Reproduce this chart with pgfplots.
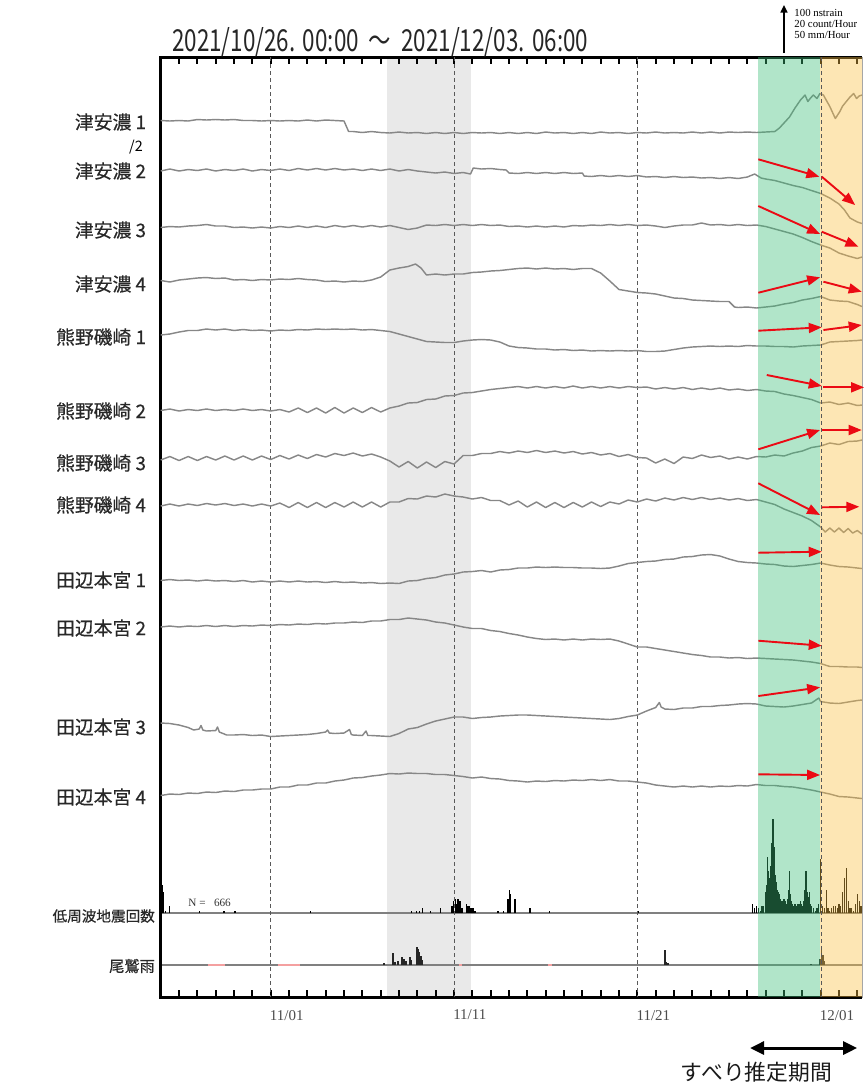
\documentclass[border=0pt]{standalone}
\usepackage{pgfplots}
\pgfplotsset{compat=1.18}
\usepackage{graphicx}
\usepackage{fontspec}
\setmainfont{Liberation Serif}
\newfontfamily\jp{Noto Sans CJK JP}
\newfontfamily\jpm[FakeBold=0.5]{Noto Sans CJK JP}
\usetikzlibrary{arrows.meta}
\definecolor{tracegray}{RGB}{135,135,135}
\definecolor{bandgray}{RGB}{233,233,233}
\definecolor{greenov}{RGB}{60,190,120}
\definecolor{yellowov}{RGB}{250,192,67}
\definecolor{arrowred}{RGB}{235,10,20}
\definecolor{pinkline}{RGB}{244,160,160}
\definecolor{labelc}{RGB}{40,40,40}
\pgfplotsset{
  base/.style={scale only axis, width=350.6pt, height=470pt, xmin=0, xmax=38.25,
    at={(80.35pt,-28.5pt)}, anchor=north west, clip=false},
  hidden/.style={base, axis lines=none, xtick=\empty, ytick=\empty},
}
\tikzset{
  trace/.style={tracegray, line width=0.72pt, line join=round},
  redarr/.style={arrowred, line width=0.95pt, -{Triangle[length=6.5pt,width=5pt]}},
  stlabel/.style={anchor=east, inner sep=0pt, text=labelc, font=\jpm\fontsize{9.4}{10}\selectfont},
  dline/.style={black!65, line width=0.5pt, dash pattern=on 2pt off 1.5pt},
  tickmark/.style={black, line width=1pt},
}
\begin{document}
\begin{tikzpicture}
\useasboundingbox (0,0) rectangle (432pt,-543pt);
% ---------- low-frequency earthquake counts (count/hour) ----------
\begin{axis}[hidden, ymin=-35.74, ymax=364.26]
\fill[bandgray] (axis cs:12.36,-35.74) rectangle (axis cs:16.9,364.26);
\addplot[gray, line width=0.6pt] coordinates {(0,0)(38.25,0)};
\addplot[ycomb, black, line width=0.6pt] coordinates {
(0.02,13)(0.07,12)(0.12,9)(0.17,5)(0.25,1)(0.5,3)
(2.1,1)(3.45,1)(4.05,1)(8.15,1)
(13.7,1)(13.95,1)(14.1,1)(14.3,2)(14.7,1)(15.25,2)
(15.89,3)(15.95,5)(16.06,6)(16.11,4)(16.22,6)(16.27,4)(16.33,5)(16.44,2)(16.66,4)(16.71,3)(16.82,3)(16.93,2)(17.04,2)(17.15,1)
(18.4,1)(18.68,1)(18.9,3)(18.95,6)(19.03,10)(19.08,8)(19.33,6)(20.15,2)(21.19,1)
(26.04,1)
(32.3,4)(32.4,2)(32.5,3)(32.6,2)(32.7,1)(32.8,3)(32.9,3)(33.0,9)(33.05,12)(33.1,24)(33.15,18)(33.2,15)(33.25,20)(33.3,26)(33.35,30)(33.4,40)(33.45,28)(33.5,21)(33.55,16)(33.6,13)(33.65,10)(33.7,9)(33.75,8)(33.8,6)(33.85,5)(33.9,4)(33.95,5)
(34.0,6)(34.05,5)(34.1,4)(34.15,4)(34.2,6)(34.25,10)(34.3,18)(34.35,8)(34.4,5)(34.45,4)(34.5,3)(34.55,3)(34.6,4)(34.65,3)(34.7,3)(34.75,4)(34.8,4)(34.85,4)(34.9,5)(34.95,4)
(35.0,3)(35.05,5)(35.1,8)(35.15,10)(35.2,18)(35.25,9)(35.3,6)(35.35,7)(35.4,9)(35.45,4)(35.5,3)(35.6,2)(35.7,1)(35.8,2)(35.9,4)
(36.0,23)(36.1,3)(36.2,2)(36.3,10)(36.4,2)(36.5,1)(36.6,2)(36.7,3)(36.8,3)(36.9,2)
(37.0,4)(37.1,3)(37.2,9)(37.3,15)(37.4,19)(37.5,5)(37.6,2)(37.7,2)(37.8,1)(37.9,4)(38.0,8)(38.1,5)(38.2,3)
};
\end{axis}
% ---------- Owase rain (mm/hour) ----------
\begin{axis}[hidden, ymin=-34.04, ymax=965.96]
\addplot[gray, line width=0.6pt] coordinates {(0,0)(38.25,0)};
\addplot[pinkline, line width=1pt] coordinates {(2.6,0)(3.5,0)};
\addplot[pinkline, line width=1pt] coordinates {(6.4,0)(7.6,0)};
\addplot[pinkline, line width=1pt] coordinates {(16.25,0)(16.45,0)};
\addplot[pinkline, line width=1pt] coordinates {(21.15,0)(21.35,0)};
\addplot[ycomb, black!85, line width=0.8pt] coordinates {
(12.18,2)(12.67,13)(12.78,3)(12.95,4)(13.17,8.5)(13.27,6.5)(13.38,4)(13.6,8.5)(13.66,5.5)
(13.97,19)(14.04,17)(14.12,14)(14.2,9.5)(14.28,5)
(27.51,16)(27.6,3)(27.68,2)
(35.48,1)(35.97,6.5)(36.05,18)(36.13,10.5)(36.21,4)
};
\end{axis}
% ---------- strain traces (vertical position in drawing units) ----------
\begin{axis}[base, y dir=reverse, ymin=57, ymax=997,
  axis line style={draw=gray!70, line width=0.4pt},
  xtick={6,16,26,36}, xticklabels={11/01,11/11,11/21,12/01},
  ytick=\empty, major tick length=0pt,
  xticklabel style={font=\fontsize{7.5}{8}\selectfont, text=black!70, anchor=north west, xshift=-3.9pt, yshift=-3pt},
]
\pgfplotsinvokeforeach{0,1,...,38}{
  \draw[tickmark] (axis cs:#1,57) -- (axis cs:#1,64);
  \draw[tickmark] (axis cs:#1,997) -- (axis cs:#1,990);
}
\draw[black, line width=1.5pt, line join=miter] (axis cs:38.25,57) -- (axis cs:0,57) -- (axis cs:0,997) -- (axis cs:38.25,997);
\draw[dline] (axis cs:6,57) -- (axis cs:6,997);
\draw[dline] (axis cs:16,57) -- (axis cs:16,997);
\draw[dline] (axis cs:26,57) -- (axis cs:26,997);
% Tsu-Ano 1
\addplot[trace] coordinates {(0,120.5)(0.5,121)(1,120.5)(1.5,121)(2,119.5)(2.5,120)(3,119.5)(3.5,120)(4,119.5)(4.5,120.5)(5,120.5)(5.5,121)(6,120.5)(6.5,121)(7,120.5)(7.5,121)(8,120)(8.5,121)(9,120)(9.5,120.5)(10,121)(10.25,131.5)(10.5,131.5)(11,132.5)(11.5,131.5)(12,132.5)(12.5,133)(13,132)(13.5,133)(14,132.5)(14.5,133.5)(15,132.5)(15.5,133.5)(16,132.5)(16.5,133.5)(17,132.5)(17.5,133)(18,132.5)(18.5,133.5)(19,132.5)(19.5,133.5)(20,132.5)(20.5,133.5)(21,132)(21.5,133)(22,132.5)(22.5,133.5)(23,132.5)(23.5,133.5)(24,132)(24.5,133)(25,132.5)(25.5,133.5)(26,132.5)(26.5,133)(27,132)(27.5,133)(28,132.5)(28.5,133)(29,132)(29.5,133)(30,132)(30.5,133)(31,132)(31.5,132.5)(32,132)(32.5,132.5)(33,132)(33.5,131.5)(33.75,128)(34,123)(34.3,117)(34.6,108)(34.9,100)(35.15,95)(35.3,101.5)(35.45,98)(35.6,95)(35.8,98.5)(35.96,93.5)(36.15,95)(36.3,100)(36.5,106.5)(36.8,118.5)(37.05,111.5)(37.2,106)(37.4,101.5)(37.6,97)(37.8,93.5)(37.96,98.5)(38.1,96)(38.25,95)};
% Tsu-Ano 2
\addplot[trace] coordinates {(0,171)(0.5,169)(1,171)(1.5,169.5)(2,170.5)(2.5,169)(3,171)(3.5,169.5)(4,170.5)(4.5,169)(5,171)(5.5,169.5)(6,170.5)(6.5,169)(7,170.5)(7.5,168.5)(8,170)(8.5,168.5)(9,170)(9.5,168.5)(10,170)(10.5,169)(11,170.5)(11.5,169)(12,170.5)(12.5,169)(13,171)(13.5,169.5)(14,171)(14.5,172)(15,173)(15.5,172)(16,173.5)(16.5,172.5)(16.9,174)(17.05,168)(17.5,169)(18,168.5)(18.5,169.5)(18.85,170)(19,173)(19.5,173.5)(20,172.5)(20.5,173.5)(21,172.5)(21.5,173.5)(22,172.5)(22.5,173.5)(23,173)(23.1,176)(23.5,176.5)(24,175.5)(24.5,176.5)(25,175.5)(25.5,176.5)(26,175.5)(26.5,177)(27,176.5)(27.5,177.5)(28,176.5)(28.5,177.5)(29,177)(29.5,178)(30,177.5)(30.5,178.5)(31,177.5)(31.5,178.5)(32,177)(32.4,174)(32.75,178)(33,179)(33.5,180.5)(34,183)(34.5,185.5)(35,187.5)(35.5,190.5)(36,193.5)(36.5,198)(37,204)(37.3,210)(37.6,218)(38,222)(38.25,223.5)};
% Tsu-Ano 3
\addplot[trace] coordinates {(0,227.5)(0.5,226.5)(1,227)(1.5,226)(2,225.5)(2.5,224.5)(3,226)(3.5,226)(4,227.5)(4.5,227)(5,228)(5.5,227)(6,228)(6.5,226.5)(7,227.5)(7.5,226)(8,227.5)(8.5,226)(9,227.5)(9.5,225.5)(10,227)(10.5,225.5)(11,227)(11.5,225.5)(12,227)(12.5,225.5)(13,227.5)(13.5,229.5)(14,228)(14.5,225)(15,225.5)(15.5,224.5)(16,225.5)(16.5,224.5)(17,225.5)(17.5,224.5)(18,225.5)(18.5,225)(19,226.5)(19.5,226)(20,227)(20.5,226)(21,227)(21.5,226)(22,227)(22.5,225.5)(23,226)(23.5,225)(24,225.5)(24.5,224.5)(25,225.5)(25.5,224.5)(26,225.5)(26.5,225)(27,226)(27.5,227.5)(28,226)(28.5,225)(29,225)(29.5,223)(30,225)(30.5,224.5)(31,225.5)(31.5,224.5)(32,225.5)(32.5,225)(33,226.5)(33.5,229)(34,231.5)(34.5,234)(35,237.5)(35.5,241.5)(36,245)(36.5,248)(37,253)(37.5,256)(38,258.5)(38.25,257)};
% Tsu-Ano 4
\addplot[trace] coordinates {(0,280.5)(0.5,282)(1,280)(1.5,279)(2,278)(2.5,277.5)(3,278.5)(3.5,278)(4,280)(4.5,279.5)(5,280.5)(5.5,279.5)(6,280)(6.5,279)(7,279.5)(7.5,278.5)(8,279.5)(8.5,280)(9,281.5)(9.5,281)(10,282)(10.5,281)(11,281.5)(11.5,280)(12,277)(12.5,270)(13,268)(13.5,266.5)(13.9,264)(14.2,268)(14.5,275)(15,274)(15.5,275)(16,274)(16.5,274)(17,272.5)(17.5,272)(18,271)(18.5,270.5)(19,269.5)(19.5,268.5)(20,268)(20.5,269)(21,268)(21.5,269)(22,268.5)(22.5,269.5)(23,268.5)(23.5,268.5)(24,273)(24.5,281)(25,289.5)(25.5,291)(26,292.5)(26.5,293)(27,294)(27.5,296)(28,298)(28.5,298.5)(29,300)(29.5,300.5)(30,301)(30.5,301.5)(31,301.5)(31.3,307)(31.5,307.5)(32,307)(32.5,308)(33,307)(33.5,306)(34,304)(34.5,302.5)(35,300)(35.5,298.5)(36,296.5)(36.5,300)(37,301)(37.5,301.5)(38,304.5)(38.25,306.5)};
% Kumano-Isozaki 1
\addplot[trace] coordinates {(0,335)(0.5,334)(1,332)(1.5,330.5)(2,330.5)(2.5,329)(3,330)(3.5,329)(4,330.5)(4.5,329.5)(5,330.5)(5.5,330)(6,331)(6.5,330)(7,330.5)(7.5,329.5)(8,330)(8.5,329)(9,329.5)(9.5,329)(10,329.5)(10.5,329)(11,330)(11.5,329.5)(12,330.5)(12.5,331.5)(13,334)(13.5,336.5)(14,339)(14.5,341.5)(15,342)(15.5,342.5)(16,342.5)(16.5,341)(17,340)(17.5,339.5)(18,340)(18.5,342)(19,346)(19.5,347.5)(20,348)(20.5,349)(21,349)(21.5,350)(22,349.5)(22.5,350.5)(23,350)(23.5,351)(24,350.5)(24.5,351)(25,350.5)(25.5,351)(26,350.5)(26.5,351.5)(27,351.5)(27.5,351)(28,349.5)(28.5,348)(29,347)(29.5,346.5)(30,346)(30.5,346.5)(31,346)(31.5,346.5)(32,345.5)(32.5,346)(33,346)(33.5,346.5)(34,346.5)(34.5,347)(35,346)(35.5,345.5)(36,345)(36.5,342)(37,341.5)(37.5,341)(38,340.5)(38.25,340)};
% Kumano-Isozaki 2
\addplot[trace] coordinates {(0,410.5)(0.5,409)(1,411)(1.5,409.5)(2,410.5)(2.5,409)(3,410.5)(3.5,409.5)(4,410.5)(4.5,409)(5,410.5)(5.5,409.5)(6,411)(6.5,409.5)(7,412)(7.5,408)(8,412.5)(8.5,408)(9,413)(9.5,407.5)(10,413)(10.5,408)(11,412.5)(11.5,407.5)(12,412)(12.5,408)(13,406)(13.5,403)(14,402.5)(14.5,399.5)(15,399)(15.5,396)(16,395.5)(16.5,393)(17,392.5)(17.5,391)(18,389.5)(18.5,388.5)(19,387.5)(19.5,386.5)(20,388)(20.5,386.5)(21,388)(21.5,386.5)(22,388)(22.5,386)(23,388)(23.5,386.5)(24,388)(24.5,386.5)(25,388)(25.5,386.5)(26,387.5)(26.5,387)(27,389)(27.5,387.5)(28,389)(28.5,387.5)(29,389.5)(29.5,388)(30,389.5)(30.5,388)(31,390)(31.5,389)(32,390.5)(32.5,389.5)(33,391)(33.5,391.5)(34,394)(34.5,395.5)(35,397.5)(35.5,399.5)(36,403)(36.5,402)(37,404.5)(37.5,403)(38,405.5)(38.25,405)};
% Kumano-Isozaki 3
\addplot[trace] coordinates {(0,460)(0.5,456.5)(1,460.5)(1.5,456.5)(2,460.5)(2.5,456.5)(3,460)(3.5,456)(4,460)(4.5,456)(5,460)(5.5,456)(6,459.5)(6.5,455.5)(7,459)(7.5,455)(8,458.5)(8.5,454.5)(9,457)(9.5,453.5)(10,455.5)(10.5,453)(11,456)(11.5,454)(12,457)(12.5,461)(13,467)(13.5,461.5)(14,468)(14.5,462)(15,467.5)(15.5,461.5)(16,464)(16.5,455.5)(17,455.5)(17.5,453.5)(18,453.5)(18.5,451.5)(19,453)(19.5,451)(20,452.5)(20.5,450.5)(21,452.5)(21.5,451)(22,453)(22.5,451.5)(23,454)(23.5,452.5)(24,455)(24.5,453.5)(25,456.5)(25.5,454.5)(26,457.5)(26.5,458)(27,463)(27.5,459)(28,463.5)(28.5,457)(29,458.5)(29.5,455)(30,457.5)(30.5,456)(31,459)(31.5,457)(32,459)(32.5,456.5)(33,457)(33.5,455)(34,456)(34.5,453)(35,451)(35.5,447.5)(36,446)(36.5,443)(37,444.5)(37.5,441.5)(38,441)(38.25,440)};
% Kumano-Isozaki 4
\addplot[trace] coordinates {(0,506)(0.5,504)(1,506)(1.5,504)(2,505.5)(2.5,503.5)(3,505)(3.5,503.5)(4,505.5)(4.5,504)(5,506)(5.5,504)(6,506)(6.5,503)(7,507.5)(7.5,502.5)(8,507.5)(8.5,502.5)(9,507.5)(9.5,502.5)(10,507)(10.5,502)(11,507)(11.5,502)(12,507)(12.5,502)(13,502)(13.5,498.5)(14,499)(14.5,496)(15,497)(15.5,494)(16,496)(16.5,497)(17,499)(17.5,497.5)(18,500.5)(18.5,500.5)(19,505)(19.5,501)(20,507)(20.5,502)(21,507.5)(21.5,502.5)(22,507.5)(22.5,502.5)(23,507)(23.5,502)(24,506.5)(24.5,502)(25,504)(25.5,500)(26,502)(26.5,499)(27,501)(27.5,498)(28,500)(28.5,497.5)(29,499.5)(29.5,497.5)(30,499.5)(30.5,498)(31,500)(31.5,498.5)(32,500.5)(32.5,499.5)(33,502)(33.5,504.5)(34,509)(34.5,512.5)(35,516)(35.5,520.5)(36,527)(36.25,532)(36.5,528)(36.75,532)(37,528)(37.25,532.5)(37.5,528.5)(37.75,533)(38,530.5)(38.25,534)};
% Tanabe-Hongu 1
\addplot[trace] coordinates {(0,580.5)(0.5,579.5)(1,580.5)(1.5,580)(2,581)(2.5,580)(3,581)(3.5,580.5)(4,581.5)(4.5,580.5)(5,582)(5.5,581)(6,582)(6.5,581)(7,582)(7.5,581)(8,582)(8.5,581.5)(9,582.5)(9.5,581.5)(10,582.5)(10.5,582)(11,583)(11.5,582.5)(12,583.5)(12.5,583)(13,583.5)(13.5,581)(14,580.5)(14.5,578.5)(15,577.5)(15.5,575)(16,574)(16.5,572)(17,571.5)(17.5,570.5)(18,572)(18.5,570)(19,569.5)(19.5,568)(20,568)(20.5,567)(21,567.5)(21.5,567)(22,567.5)(22.5,567.5)(23,568)(23.5,568)(24,568.5)(24.5,568)(25,566)(25.5,563.5)(26,562.5)(26.5,561.5)(27,561)(27.5,559.5)(28,559)(28.5,557)(29,556.5)(29.5,555)(30,554.5)(30.5,556)(31,559)(31.5,561.5)(32,562.5)(32.5,563)(33,564)(33.5,564.5)(34,566)(34.5,566.5)(35,565.5)(35.5,564.5)(36,563)(36.5,565)(37,566.5)(37.5,567)(38,568)(38.25,568.5)};
% Tanabe-Hongu 2
\addplot[trace] coordinates {(0,627)(0.5,626)(1,627)(1.5,626)(2,626.5)(2.5,625.5)(3,626.5)(3.5,625.5)(4,626.5)(4.5,625.5)(5,626)(5.5,625)(6,625.5)(6.5,624.5)(7,625)(7.5,624)(8,624.5)(8.5,623.5)(9,624)(9.5,623)(10,623)(10.5,622)(11,622.5)(11.5,621)(12,621)(12.5,619.5)(13,619.5)(13.5,618)(14,619)(14.5,620)(15,622)(15.5,623)(16,625)(16.5,627)(17,628.5)(17.5,628.5)(18,630.5)(18.5,631.5)(19,633.5)(19.5,635)(20,637)(20.5,638.5)(21,639.5)(21.5,639)(22,640)(22.5,639)(23,640)(23.5,639)(24,639.5)(24.5,639)(25,641)(25.5,644)(26,647)(26.5,647)(27,648.5)(27.5,650)(28,651.5)(28.5,653)(29,654.5)(29.5,655.5)(30,657)(30.5,657)(31,658)(31.5,657.5)(32,658.5)(32.5,658)(33,658.5)(33.5,659)(34,659.5)(34.5,660)(35,661)(35.5,662)(36,663.5)(36.5,666.5)(37,666.5)(37.5,667)(38,667)(38.25,667.5)};
% Tanabe-Hongu 3
\addplot[trace] coordinates {(0,723)(0.5,723.5)(1,725)(1.5,727.5)(1.8,730)(2.1,729)(2.2,725.5)(2.3,730)(2.5,731)(3,730.5)(3.1,727)(3.2,732)(3.6,735)(4,735)(4.5,734.5)(5,735.5)(5.5,735)(6,736.5)(6.5,736)(7,735.5)(7.5,735)(8,734.5)(8.5,733.5)(9,732)(9.1,730)(9.2,733)(9.5,733.5)(10,733)(10.3,729.5)(10.4,734.5)(10.5,735)(11,735.5)(11.2,731)(11.3,735.5)(11.5,735.5)(12,736)(12.5,736.5)(13,733.5)(13.5,729)(14,727.5)(14.5,724)(15,721)(15.5,719)(16,717)(16.5,717)(17,718.5)(17.5,717.5)(18,717)(18.5,716)(19,715.5)(19.5,715)(20,715)(20.5,715.5)(21,716)(21.5,716.5)(22,717)(22.5,717.5)(23,718)(23.5,718.5)(24,719)(24.5,719.5)(25,718.5)(25.5,716.5)(26,715)(26.5,711)(27,707.5)(27.2,702.5)(27.3,707)(27.5,709)(28,709.5)(28.5,708)(29,708)(29.5,706.5)(30,706.5)(30.5,705.5)(31,705)(31.5,704)(32,703.5)(32.5,704)(33,706)(33.5,706.5)(34,707)(34.5,706)(35,704.5)(35.5,703)(35.9,698)(36,701.5)(36.5,703)(37,703.5)(37.5,702)(38,700.5)(38.25,700)};
% Tanabe-Hongu 4
\addplot[trace] coordinates {(0,795.5)(0.5,794)(1,794.5)(1.5,793)(2,793.5)(2.5,792)(3,792.5)(3.5,791)(4,791.5)(4.5,790)(5,790)(5.5,789)(6,789)(6.5,787)(7,787)(7.5,785)(8,785)(8.5,783)(9,783)(9.5,781)(10,780)(10.5,778)(11,777.5)(11.5,776)(12,775)(12.5,773.5)(13,774)(13.5,773)(14,773.5)(14.5,773.5)(15,774.5)(15.5,774.5)(16,775.5)(16.5,776.5)(17,778)(17.5,777)(18,778.5)(18.5,779)(19,780.5)(19.5,781)(20,782)(20.5,781)(21,781.5)(21.5,780.5)(22,781)(22.5,780)(23,780.5)(23.5,779.5)(24,780.5)(24.5,779.5)(25,781)(25.5,781)(26,782)(26.5,783)(27,785)(27.5,786)(28,787)(28.5,786)(29,787)(29.5,786)(30,787)(30.5,786)(31,786.5)(31.5,785.5)(32,786)(32.5,784.5)(33,785.5)(33.5,785.5)(34,786.5)(34.5,787)(35,788.5)(35.5,790)(36,792)(36.5,794)(37,796.5)(37.5,797)(38,798)(38.25,798.5)};
% slip period overlays
\fill[greenov, fill opacity=0.4] (axis cs:32.6,57) rectangle (axis cs:35.97,997);
\fill[yellowov, fill opacity=0.4] (axis cs:35.97,57) rectangle (axis cs:38.25,997);
\draw[dline] (axis cs:36.06,57) -- (axis cs:36.06,997);
% red arrows
\draw[redarr] (axis cs:32.60,159.3) -- (axis cs:35.93,176.7);
\draw[redarr] (axis cs:36.06,176.7) -- (axis cs:37.88,205);
\draw[redarr] (axis cs:32.60,206) -- (axis cs:35.97,234);
\draw[redarr] (axis cs:36.06,231.7) -- (axis cs:38.06,246.7);
\draw[redarr] (axis cs:32.60,292.7) -- (axis cs:35.97,277.3);
\draw[redarr] (axis cs:36.15,281.7) -- (axis cs:38.24,291.7);
\draw[redarr] (axis cs:32.60,330.7) -- (axis cs:36.06,327.3);
\draw[redarr] (axis cs:36.15,330) -- (axis cs:38.24,325);
\draw[redarr] (axis cs:33.06,375) -- (axis cs:36.06,386);
\draw[redarr] (axis cs:36.15,387.3) -- (axis cs:38.37,387.3);
\draw[redarr] (axis cs:32.60,449.3) -- (axis cs:35.97,430);
\draw[redarr] (axis cs:36.06,430) -- (axis cs:38.24,430);
\draw[redarr] (axis cs:32.60,483.3) -- (axis cs:35.97,515);
\draw[redarr] (axis cs:36.06,507.3) -- (axis cs:38.11,506.7);
\draw[redarr] (axis cs:32.60,552.7) -- (axis cs:36.06,551.7);
\draw[redarr] (axis cs:32.60,640.7) -- (axis cs:36.06,645.7);
\draw[redarr] (axis cs:32.60,696) -- (axis cs:35.97,687.3);
\draw[redarr] (axis cs:32.60,774.3) -- (axis cs:35.97,775);
% labels
\node[stlabel] at (axis cs:-0.78,122) {津安濃 1};
\node[anchor=east, inner sep=0pt, text=black, font=\jp\fontsize{7.2}{8}\selectfont] at (axis cs:-0.95,147) {/2};
\node[stlabel] at (axis cs:-0.78,171) {津安濃 2};
\node[stlabel] at (axis cs:-0.78,230) {津安濃 3};
\node[stlabel] at (axis cs:-0.78,284) {津安濃 4};
\node[stlabel] at (axis cs:-0.78,337) {熊野磯崎 1};
\node[stlabel] at (axis cs:-0.78,411) {熊野磯崎 2};
\node[stlabel] at (axis cs:-0.78,463) {熊野磯崎 3};
\node[stlabel] at (axis cs:-0.78,505) {熊野磯崎 4};
\node[stlabel] at (axis cs:-0.78,580) {田辺本宮 1};
\node[stlabel] at (axis cs:-0.78,628) {田辺本宮 2};
\node[stlabel] at (axis cs:-0.78,727) {田辺本宮 3};
\node[stlabel] at (axis cs:-0.78,797) {田辺本宮 4};
\node[anchor=east, text=labelc, font=\jpm\fontsize{7.3}{8}\selectfont, inner sep=0pt] at (axis cs:-0.3,916) {低周波地震回数};
\node[anchor=east, text=labelc, font=\jpm\fontsize{7.6}{8}\selectfont, inner sep=0pt] at (axis cs:-0.3,966) {尾鷲雨};
\node[anchor=west, font=\fontsize{5.6}{6}\selectfont, text=black!80, inner sep=0pt] at (axis cs:1.49,903) {N =\ \ \ 666};
% title
\node[text=black!85, inner sep=0pt] at (axis cs:11.97,42) {\scalebox{1}[1.35]{\resizebox{208pt}{!}{\jp 2021/10/26.\,\,00:00\ \ ～\ \ 2021/12/03.\,\,06:00}}};
% scale bar
\draw[black, line width=1.2pt, -{Triangle[length=3.8pt,width=3.4pt]}] (axis cs:34.0,53) -- (axis cs:34.0,5);
\node[anchor=west, inner sep=0pt, font=\fontsize{5.4}{6}\selectfont] at (axis cs:34.55,13) {100 nstrain};
\node[anchor=west, inner sep=0pt, font=\fontsize{5.4}{6}\selectfont] at (axis cs:34.55,24) {20 count/Hour};
\node[anchor=west, inner sep=0pt, font=\fontsize{5.4}{6}\selectfont] at (axis cs:34.55,35) {50 mm/Hour};
% slip period arrow
\draw[black, line width=1.5pt, {Triangle[length=7pt,width=6.5pt]}-{Triangle[length=7pt,width=6.5pt]}] (axis cs:32.15,1048) -- (axis cs:37.99,1048);
\node[text=black!90, font=\jp\fontsize{10.9}{12}\selectfont] at (axis cs:32.5,1072) {すべり推定期間};
\end{axis}
\end{tikzpicture}
\end{document}
